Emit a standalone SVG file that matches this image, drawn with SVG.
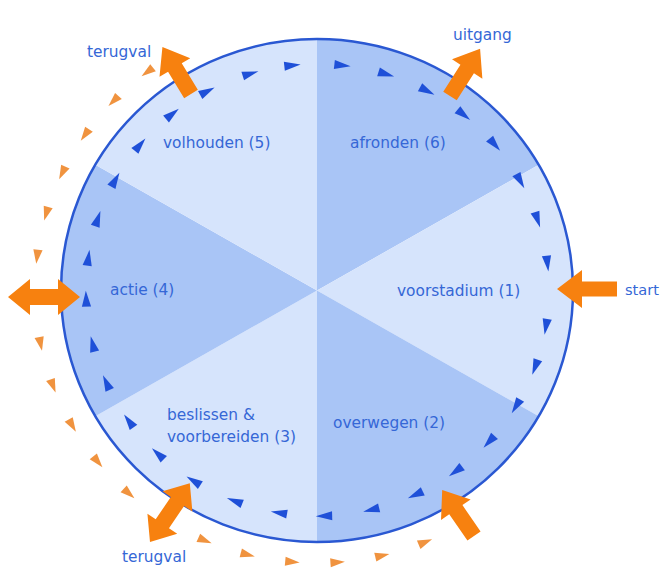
<svg xmlns="http://www.w3.org/2000/svg" xmlns:xlink="http://www.w3.org/1999/xlink" width="661" height="578" viewBox="0 0 661 578">
<style>
.light{fill:#d6e4fc;}
.dark{fill:#a9c5f6;}
.lbl{font-family:"DejaVu Sans","Liberation Sans",sans-serif;font-size:15.4px;fill:#3567d6;}
.big{fill:#f7810f;}
.bt{fill:#1f50d8;}
.ot{fill:#f0933f;}
</style>
<defs>
<polygon id="btri" points="-8,-4.5 8,0 -8,4.5"/>
<polygon id="otri" points="-7,-4.5 7,0 -7,4.5"/>
</defs>
<rect width="661" height="578" fill="#ffffff"/>
<g id="stage-afronden">
<path class="dark" d="M317 290.5 L317 39 A256 251.5 0 0 1 538.7 164.75 Z"/>
<text class="lbl" x="350" y="148">afronden (6)</text>
</g>
<g id="stage-voorstadium">
<path class="light" d="M317 290.5 L538.7 164.75 A256 251.5 0 0 1 538.7 416.25 Z"/>
<text class="lbl" x="397" y="296">voorstadium (1)</text>
</g>
<g id="stage-overwegen">
<path class="dark" d="M317 290.5 L538.7 416.25 A256 251.5 0 0 1 317 542 Z"/>
<text class="lbl" x="333" y="428">overwegen (2)</text>
</g>
<g id="stage-beslissen">
<path class="light" d="M317 290.5 L317 542 A256 251.5 0 0 1 95.3 416.25 Z"/>
<text class="lbl" x="167" y="420">beslissen &amp;</text>
<text class="lbl" x="167" y="442">voorbereiden (3)</text>
</g>
<g id="stage-actie">
<path class="dark" d="M317 290.5 L95.3 416.25 A256 251.5 0 0 1 95.3 164.75 Z"/>
<text class="lbl" x="110" y="295">actie (4)</text>
</g>
<g id="stage-volhouden">
<path class="light" d="M317 290.5 L95.3 164.75 A256 251.5 0 0 1 317 39 Z"/>
<text class="lbl" x="163" y="148">volhouden (5)</text>
</g>
<ellipse id="rim" cx="317" cy="290.5" rx="256" ry="251.5" fill="none" stroke="#2a58d2" stroke-width="2.5"/>
<g id="connectors">
<g id="cycle-inner" class="bt">
<use xlink:href="#btri" transform="translate(317.5 290) scale(1.0244 1) rotate(-6.7) translate(226 0) rotate(90)"/>
<use xlink:href="#btri" transform="translate(317.5 290) scale(1.0244 1) rotate(-18.1) translate(226 0) rotate(90)"/>
<use xlink:href="#btri" transform="translate(317.5 290) scale(1.0244 1) rotate(-28.8) translate(226 0) rotate(90)"/>
<use xlink:href="#btri" transform="translate(317.5 290) scale(1.0244 1) rotate(-40) translate(226 0) rotate(90)"/>
<use xlink:href="#btri" transform="translate(317.5 290) scale(1.0244 1) rotate(-50.8) translate(226 0) rotate(90)"/>
<use xlink:href="#btri" transform="translate(317.5 290) scale(1.0244 1) rotate(-61.7) translate(226 0) rotate(90)"/>
<use xlink:href="#btri" transform="translate(317.5 290) scale(1.0244 1) rotate(-72.7) translate(226 0) rotate(90)"/>
<use xlink:href="#btri" transform="translate(317.5 290) scale(1.0244 1) rotate(-83.8) translate(226 0) rotate(90)"/>
<use xlink:href="#btri" transform="translate(317.5 290) scale(1.0244 1) rotate(-96.2) translate(226 0) rotate(90)"/>
<use xlink:href="#btri" transform="translate(317.5 290) scale(1.0244 1) rotate(-106.8) translate(226 0) rotate(90)"/>
<use xlink:href="#btri" transform="translate(317.5 290) scale(1.0244 1) rotate(-118.4) translate(226 0) rotate(90)"/>
<use xlink:href="#btri" transform="translate(317.5 290) scale(1.0244 1) rotate(-128.8) translate(226 0) rotate(90)"/>
<use xlink:href="#btri" transform="translate(317.5 290) scale(1.0244 1) rotate(-140) translate(226 0) rotate(90)"/>
<use xlink:href="#btri" transform="translate(317.5 290) scale(1.0244 1) rotate(-150.8) translate(226 0) rotate(90)"/>
<use xlink:href="#btri" transform="translate(317.5 290) scale(1.0244 1) rotate(-161.6) translate(226 0) rotate(90)"/>
<use xlink:href="#btri" transform="translate(317.5 290) scale(1.0244 1) rotate(-171.8) translate(226 0) rotate(90)"/>
<use xlink:href="#btri" transform="translate(317.5 290) scale(1.0244 1) rotate(-182.2) translate(226 0) rotate(90)"/>
<use xlink:href="#btri" transform="translate(317.5 290) scale(1.0244 1) rotate(-193.8) translate(226 0) rotate(90)"/>
<use xlink:href="#btri" transform="translate(317.5 290) scale(1.0244 1) rotate(-204.2) translate(226 0) rotate(90)"/>
<use xlink:href="#btri" transform="translate(317.5 290) scale(1.0244 1) rotate(-215.4) translate(226 0) rotate(90)"/>
<use xlink:href="#btri" transform="translate(317.5 290) scale(1.0244 1) rotate(-226.4) translate(226 0) rotate(90)"/>
<use xlink:href="#btri" transform="translate(317.5 290) scale(1.0244 1) rotate(-237.6) translate(226 0) rotate(90)"/>
<use xlink:href="#btri" transform="translate(317.5 290) scale(1.0244 1) rotate(-249) translate(226 0) rotate(90)"/>
<use xlink:href="#btri" transform="translate(317.5 290) scale(1.0244 1) rotate(-260.4) translate(226 0) rotate(90)"/>
<use xlink:href="#btri" transform="translate(317.5 290) scale(1.0244 1) rotate(-271.6) translate(226 0) rotate(90)"/>
<use xlink:href="#btri" transform="translate(317.5 290) scale(1.0244 1) rotate(-283.4) translate(226 0) rotate(90)"/>
<use xlink:href="#btri" transform="translate(317.5 290) scale(1.0244 1) rotate(-295) translate(226 0) rotate(90)"/>
<use xlink:href="#btri" transform="translate(317.5 290) scale(1.0244 1) rotate(-306.6) translate(226 0) rotate(90)"/>
<use xlink:href="#btri" transform="translate(317.5 290) scale(1.0244 1) rotate(-317.8) translate(226 0) rotate(90)"/>
<use xlink:href="#btri" transform="translate(317.5 290) scale(1.0244 1) rotate(-329) translate(226 0) rotate(90)"/>
<use xlink:href="#btri" transform="translate(317.5 290) scale(1.0244 1) rotate(-340) translate(226 0) rotate(90)"/>
<use xlink:href="#btri" transform="translate(317.5 290) scale(1.0244 1) rotate(-350.6) translate(226 0) rotate(90)"/>
</g>
<g id="relapse-path" class="ot">
<use xlink:href="#otri" transform="translate(317 290) scale(1.033 1) rotate(-127) translate(273 0) rotate(-90)"/>
<use xlink:href="#otri" transform="translate(317 290) scale(1.033 1) rotate(-136.2) translate(273 0) rotate(-90)"/>
<use xlink:href="#otri" transform="translate(317 290) scale(1.033 1) rotate(-145.4) translate(273 0) rotate(-90)"/>
<use xlink:href="#otri" transform="translate(317 290) scale(1.033 1) rotate(-154.6) translate(273 0) rotate(-90)"/>
<use xlink:href="#otri" transform="translate(317 290) scale(1.033 1) rotate(-163.8) translate(273 0) rotate(-90)"/>
<use xlink:href="#otri" transform="translate(317 290) scale(1.033 1) rotate(-173) translate(273 0) rotate(-90)"/>
<use xlink:href="#otri" transform="translate(317 290) scale(1.033 1) rotate(-191.4) translate(273 0) rotate(-90)"/>
<use xlink:href="#otri" transform="translate(317 290) scale(1.033 1) rotate(-200.6) translate(273 0) rotate(-90)"/>
<use xlink:href="#otri" transform="translate(317 290) scale(1.033 1) rotate(-209.8) translate(273 0) rotate(-90)"/>
<use xlink:href="#otri" transform="translate(317 290) scale(1.033 1) rotate(-219) translate(273 0) rotate(-90)"/>
<use xlink:href="#otri" transform="translate(317 290) scale(1.033 1) rotate(-228.2) translate(273 0) rotate(-90)"/>
<use xlink:href="#otri" transform="translate(317 290) scale(1.033 1) rotate(-246.6) translate(273 0) rotate(-90)"/>
<use xlink:href="#otri" transform="translate(317 290) scale(1.033 1) rotate(-255.8) translate(273 0) rotate(-90)"/>
<use xlink:href="#otri" transform="translate(317 290) scale(1.033 1) rotate(-265) translate(273 0) rotate(-90)"/>
<use xlink:href="#otri" transform="translate(317 290) scale(1.033 1) rotate(-274.2) translate(273 0) rotate(-90)"/>
<use xlink:href="#otri" transform="translate(317 290) scale(1.033 1) rotate(-283.4) translate(273 0) rotate(-90)"/>
<use xlink:href="#otri" transform="translate(317 290) scale(1.033 1) rotate(-292.6) translate(273 0) rotate(-90)"/>
</g>
<g id="arrow-start">
<polygon class="big" transform="translate(617 289) rotate(180)" points="0,-7.5 35,-7.5 35,-19 60,0 35,19 35,7.5 0,7.5"/>
<text class="lbl" x="625" y="295" style="font-size:14.6px">start</text>
</g>
<g id="arrow-uitgang">
<polygon class="big" transform="translate(450 96) rotate(-57.5)" points="0,-8 32,-8 32,-18 56,0 32,18 32,8 0,8"/>
<text class="lbl" x="453" y="40">uitgang</text>
</g>
<g id="arrow-terugval-top">
<polygon class="big" transform="translate(191 94) rotate(-121.3)" points="0,-8 31,-8 31,-18 55,0 31,18 31,8 0,8"/>
<text class="lbl" x="87" y="57">terugval</text>
</g>
<g id="arrow-actie">
<polygon class="big" transform="translate(8 297)" points="0,0 22,-18 22,-8 50,-8 50,-18 72,0 50,18 50,8 22,8 22,18"/>
</g>
<g id="arrow-terugval-bottom">
<polygon class="big" transform="translate(150 542) rotate(-55.9)" points="0,0 22,-18 22,-8 49,-8 49,-18 71,0 49,18 49,8 22,8 22,18"/>
<text class="lbl" x="122" y="562">terugval</text>
</g>
<g id="arrow-reentry">
<polygon class="big" transform="translate(474 536) rotate(-124.6)" points="0,-8 32,-8 32,-18 56,0 32,18 32,8 0,8"/>
</g>
</g>
</svg>
